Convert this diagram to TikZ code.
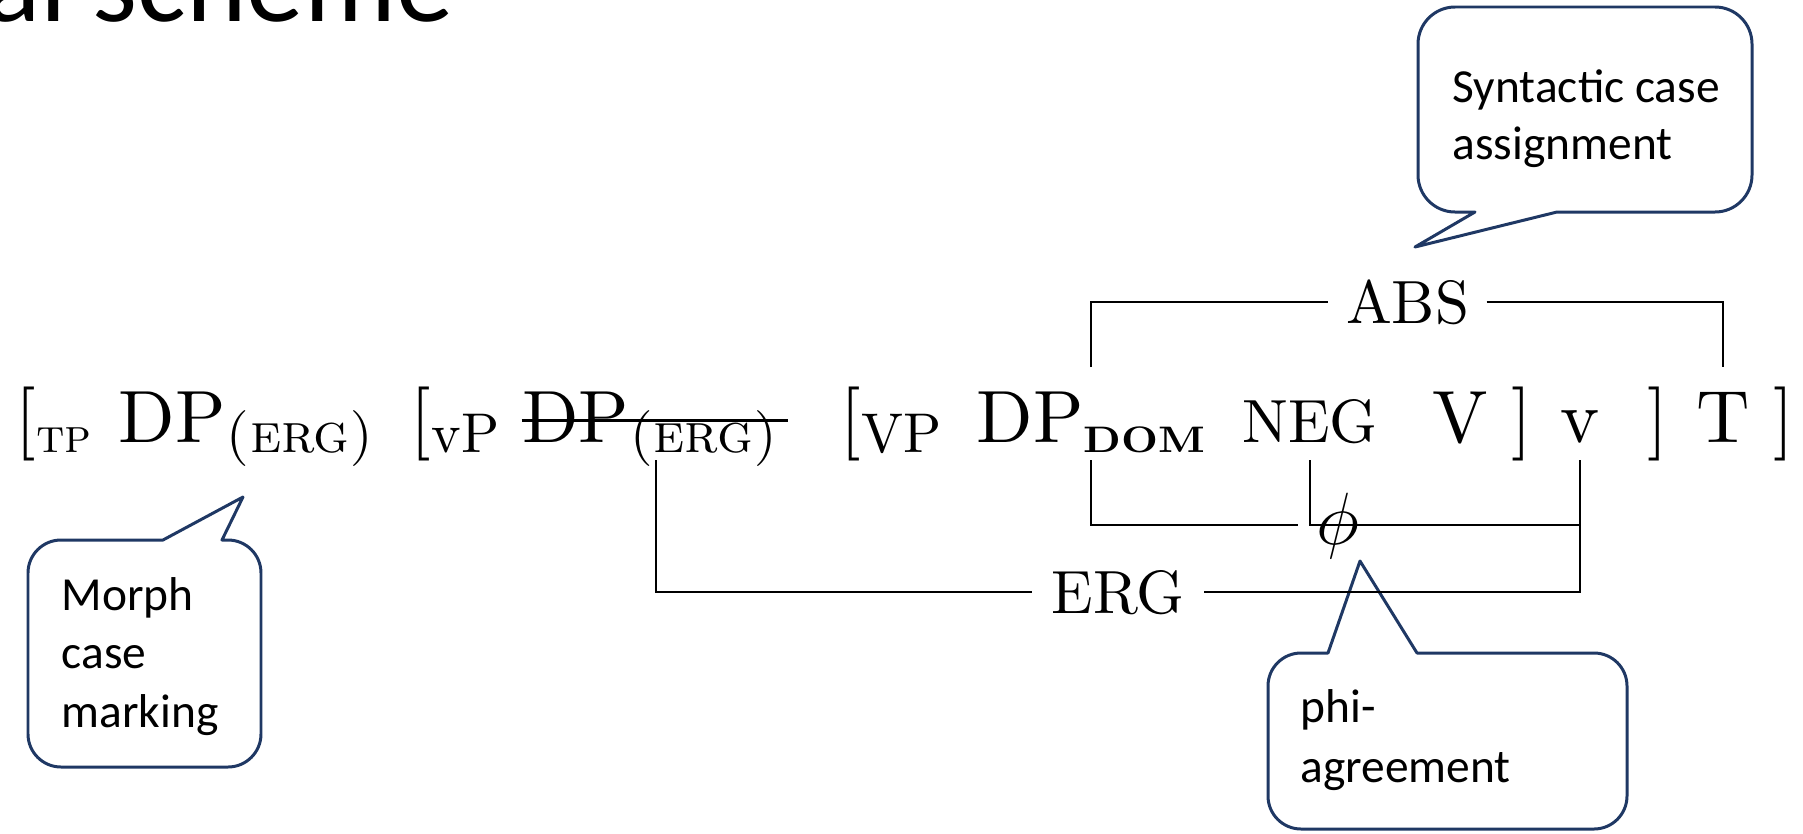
\RequirePackage{fix-cm}
\documentclass[tikz,border=0pt]{standalone}
\usepackage{fontspec}
\usepackage{graphicx}
\setmainfont{lmroman10-regular.otf}[
  BoldFont=lmroman10-bold.otf,
  ItalicFont=lmroman10-italic.otf,
  SmallCapsFont=lmromancaps10-regular.otf]
\newfontfamily\calfont{Carlito}
\usetikzlibrary{calc}
\definecolor{calloutblue}{RGB}{31,56,100}

% type sizes
\newcommand\fbig{\fontsize{21.05pt}{25pt}\selectfont}
\newcommand\fmid{\fontsize{17.36pt}{21pt}\selectfont}
\newcommand\fvp{\fontsize{15.93pt}{19pt}\selectfont}
\newcommand\fsub{\fontsize{15.9pt}{19pt}\selectfont}
\newcommand\ftp{\fontsize{13.7pt}{16pt}\selectfont}
\newcommand\fdom{\fontsize{10.5pt}{13pt}\selectfont}
\newcommand\fcall{\calfont\fontsize{13.49pt}{16.2pt}\selectfont}
\newcommand\ftitle{\calfont\fontsize{32.7pt}{39pt}\selectfont}
\newcommand\lowered[1]{\raisebox{-2.85pt}{#1}}

\begin{document}
\begin{tikzpicture}[x=0.01cm, y=-0.01cm,
  tok/.style={inner sep=0pt, anchor=base, font=\fbig},
  lbl/.style={tok, font=\fmid},
  bar/.style={line width=0.75pt, black},
  bubble/.style={draw=calloutblue, line width=0.85pt, line join=round},
  ctext/.style={inner sep=0pt, anchor=base west, font=\fcall}]
\useasboundingbox (0,0) rectangle (1803,833);
\clip (0,0) rectangle (1803,833);

% heading, running off the top edge
\node[inner sep=0pt, anchor=base east, font=\ftitle] (title) at (454,21) {al scheme};

% speech bubbles
\draw[bubble] (1475,212) -- (1415,247) -- (1557,212) -- (1715,212)
  arc[start angle=90, end angle=0, radius=37] -- (1752,44)
  arc[start angle=0, end angle=-90, radius=37] -- (1455,7)
  arc[start angle=-90, end angle=-180, radius=37] -- (1418,175)
  arc[start angle=180, end angle=90, radius=37] -- cycle;
\node[ctext] (syn1) at (1452,102) {Syntactic case};
\node[ctext] (syn2) at (1452,159) {assignment};

\draw[bubble] (163,540) -- (243,497) -- (222,540) -- (228,540)
  arc[start angle=-90, end angle=0, radius=33] -- (261,734)
  arc[start angle=0, end angle=90, radius=33] -- (61,767)
  arc[start angle=90, end angle=180, radius=33] -- (28,573)
  arc[start angle=180, end angle=270, radius=33] -- cycle;
\node[ctext] (mor1) at (61,610) {Morph};
\node[ctext] (mor2) at (61,668) {case};
\node[ctext] (mor3) at (61,727) {marking};

\draw[bubble] (1328,653) -- (1360,561) -- (1417,653) -- (1594,653)
  arc[start angle=-90, end angle=0, radius=33] -- (1627,796)
  arc[start angle=0, end angle=90, radius=33] -- (1301,829)
  arc[start angle=90, end angle=180, radius=33] -- (1268,686)
  arc[start angle=180, end angle=270, radius=33] -- cycle;
\node[ctext] (agr1) at (1300,722) {phi-};
\node[ctext] (agr2) at (1300,782) {agreement};

% the bracketed string
\node[tok] (t1)  at (53.5,442)  {[\lowered{\ftp\textsc{tp}}};
\node[tok] (t2)  at (246.5,442) {DP\lowered{\fsub\textsc{(erg)}}};
\node[tok] (t3)  at (455,442)   {[\lowered{\fvp vP}};
\node[tok] (t4)  at (650,442)   {DP\lowered{\fsub\textsc{(erg)}}};
\node[tok] (t5)  at (891,442)   {[\lowered{\fvp VP}};
\node[tok] (t6)  at (1091,442)  {DP\lowered{\scalebox{1.16}[1]{\fdom\bfseries DOM}}};
\node[lbl] (t7)  at (1310,442)  {NEG};
\node[tok] (t8)  at (1460.5,442) {V};
\node[tok] (t9)  at (1521.5,442) {]};
\node[tok] (t10) at (1580,442)  {v};
\node[tok] (t11) at (1657.5,442) {]};
\node[tok] (t12) at (1723,442)  {T};
\node[tok] (t13) at (1784,442)  {]};

% deleted lower copy
\draw[line width=0.85pt] ($(t4.base west)+(0,-22)$) -- ($(t4.base east)+(10,-22)$);
\coordinate (t4x) at ($(t4.base)+(6,0)$);

% case and agreement labels
\node[lbl, inner xsep=0.17cm] (abs) at (1407.5,323) {ABS};
\node[lbl, inner xsep=0.19cm] (erg) at (1118,613) {ERG};
\node[tok, inner xsep=0.18cm] (phi) at (1338,544) {$\phi$};

% levels of the connectors
\coordinate (absy) at (0,302);
\coordinate (topy) at (0,367);
\coordinate (boty) at (0,460);
\coordinate (domy) at (0,525);
\coordinate (ergy) at (0,592);

% ABS: DP_DOM -- T
\draw[bar] (t6 |- topy) -- (t6 |- absy) -- (abs.west |- absy);
\draw[bar] (abs.east |- absy) -- (t12 |- absy) -- (t12 |- topy);
% phi: DP_DOM, NEG -- v
\draw[bar] (t6 |- boty) -- (t6 |- domy) -- (phi.west |- domy);
\draw[bar] (t7 |- boty) -- (t7 |- domy) -- (t10 |- domy);
% ERG: lower DP -- v
\draw[bar] (t4x |- boty) -- (t4x |- ergy) -- (erg.west |- ergy);
\draw[bar] (erg.east |- ergy) -- (t10 |- ergy) -- (t10 |- boty);
\end{tikzpicture}
\end{document}
